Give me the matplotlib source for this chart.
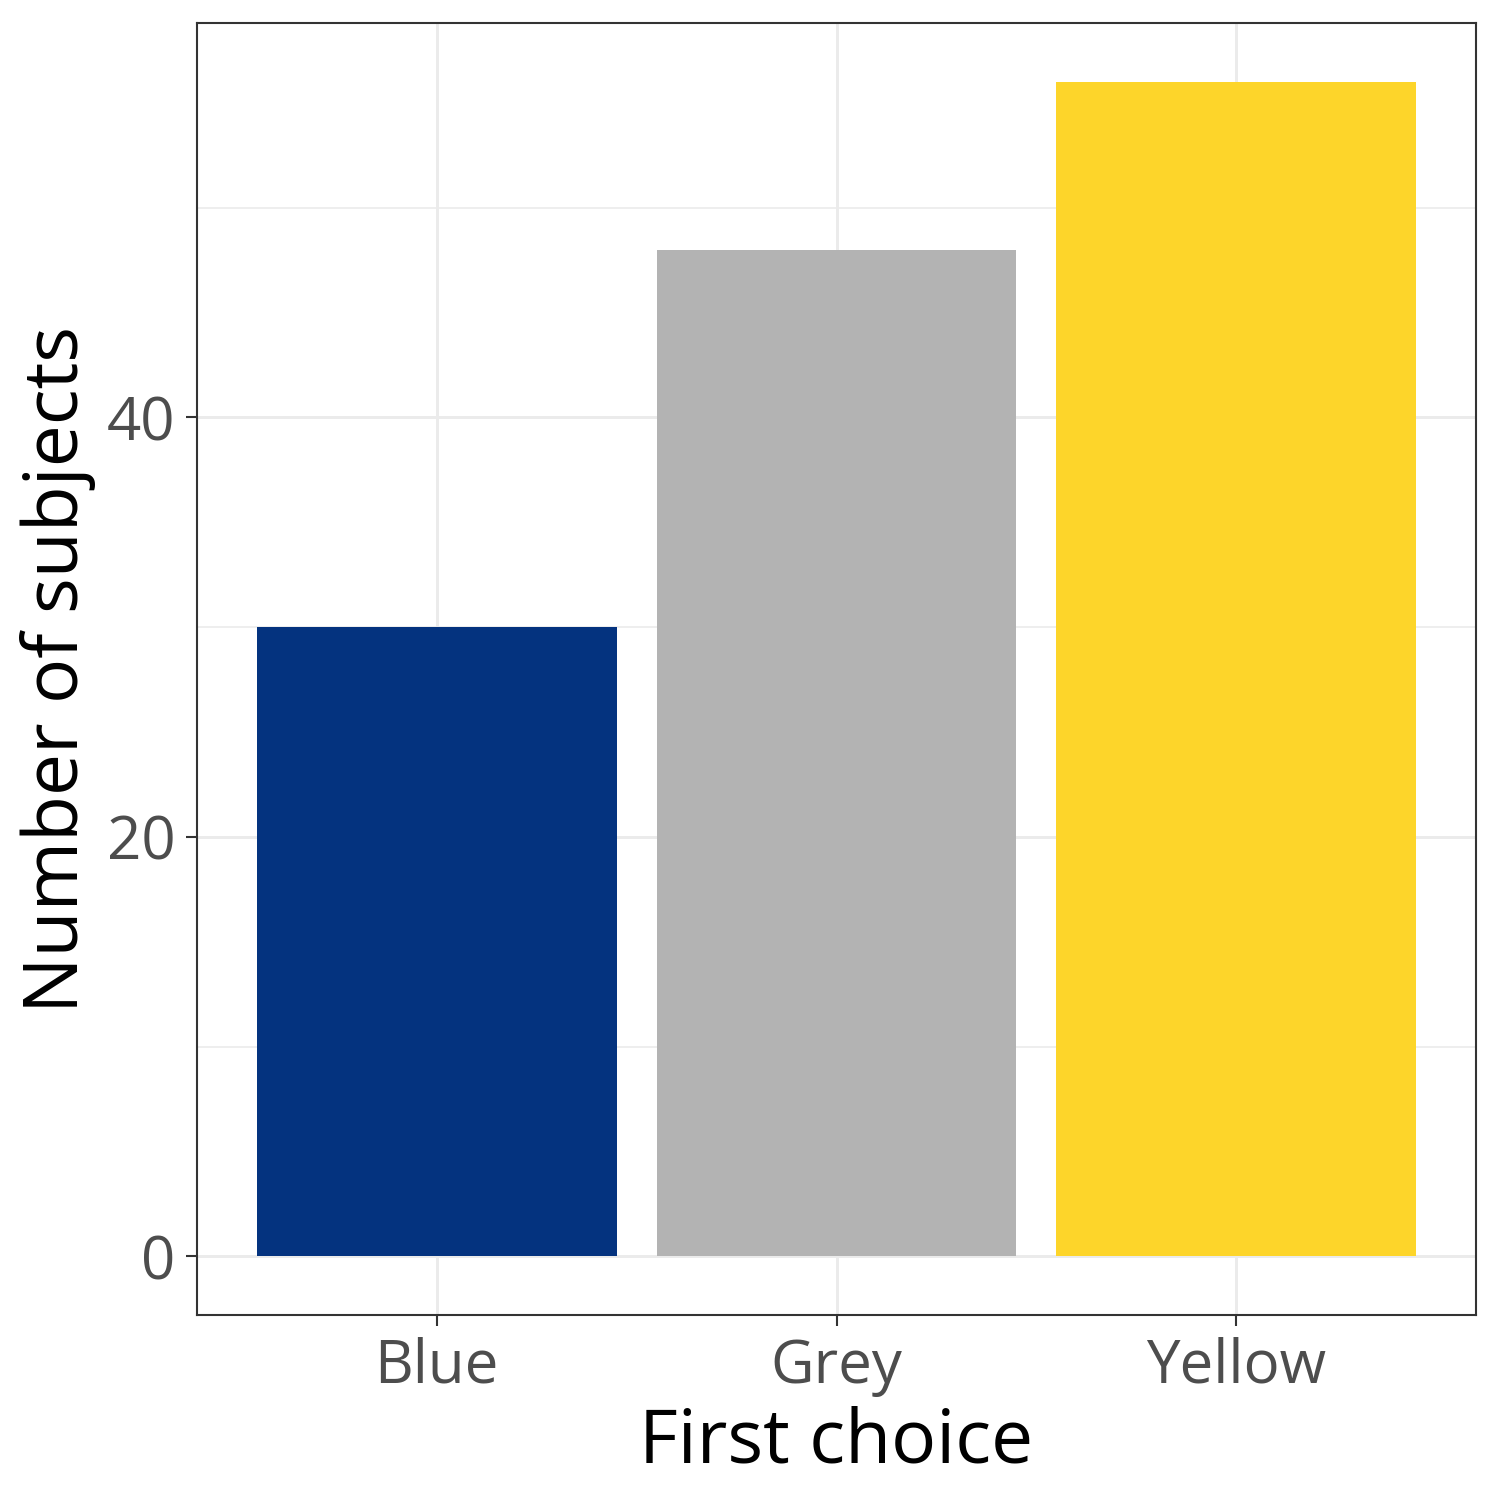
import matplotlib
matplotlib.use("Agg")
import matplotlib.pyplot as plt
from matplotlib.ticker import MultipleLocator

categories = ["Blue", "Grey", "Yellow"]
counts = [30, 48, 56]
colors = ["#04337F", "#B3B3B3", "#FDD52A"]

plt.rcParams['font.family'] = ['Open Sans', 'DejaVu Sans']

fig = plt.figure(figsize=(5, 5), dpi=300)
ax = fig.add_axes([197/1500, 1 - 1315/1500, (1476-197)/1500, (1315-23)/1500])

x = list(range(len(categories)))
ax.bar(x, counts, width=0.9, color=colors, zorder=3)

ymax = max(counts)
ax.set_ylim(-0.05*ymax, ymax*1.05)
ax.set_xlim(-0.6, len(categories) - 0.4)
ax.set_xticks(x)
ax.set_xticklabels(categories)
ax.yaxis.set_major_locator(MultipleLocator(20))
ax.yaxis.set_minor_locator(MultipleLocator(10))

ax.grid(True, which='major', color='#EBEBEB', linewidth=0.7, zorder=0)
ax.grid(True, which='minor', axis='y', color='#EBEBEB', linewidth=0.4, zorder=0)
ax.set_axisbelow(True)

for s in ax.spines.values():
    s.set_color('#333333')
    s.set_linewidth(0.5)

ax.tick_params(axis='both', which='major', length=2.75, width=0.5, color='#333333',
               labelsize=14.4, labelcolor='#4D4D4D', pad=2.5)
ax.tick_params(axis='y', which='minor', length=0)

ax.set_xlabel("First choice", fontsize=18, color='black', labelpad=2)
ax.set_ylabel("Number of subjects", fontsize=18, color='black', labelpad=2.5)

fig.savefig("out.png", dpi=300)
